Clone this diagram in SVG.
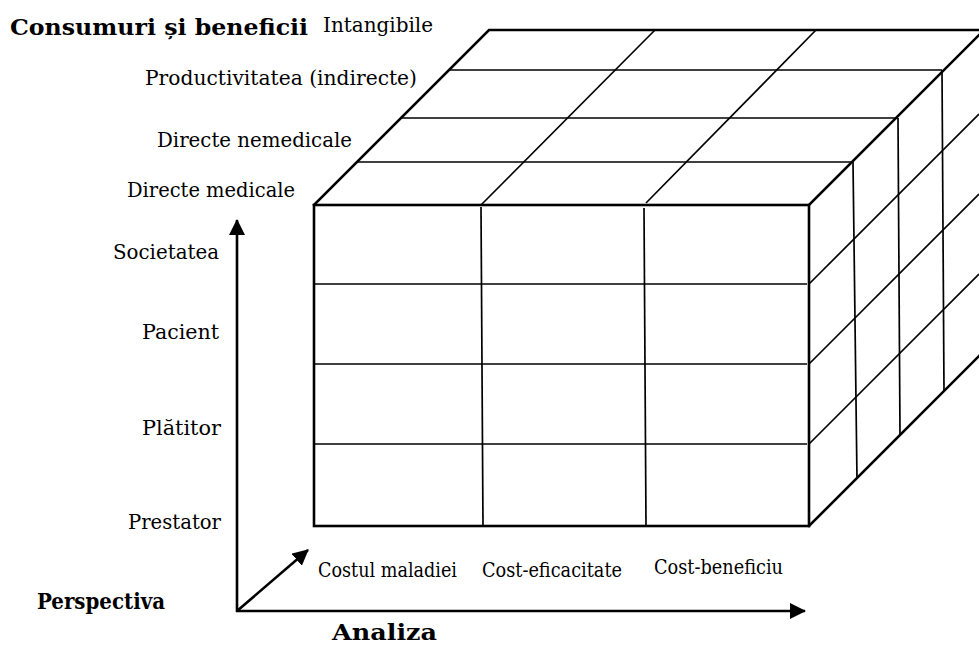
<svg xmlns="http://www.w3.org/2000/svg" width="979" height="647" viewBox="0 0 979 647">
  <style>
    .edge { stroke: #000; stroke-width: 2.6; fill: none; stroke-linecap: square; stroke-linejoin: miter; }
    .grid { stroke: #000; stroke-width: 1.7; fill: none; }
    .axis { stroke: #000; stroke-width: 2.6; fill: none; }
    .lbl { font-family: "DejaVu Serif", "Liberation Serif", serif; font-size: 20px; fill: #000; }
    .ttl { font-family: "DejaVu Serif", "Liberation Serif", serif; font-size: 22px; font-weight: bold; fill: #000; }
  </style>
  <defs>
    <marker id="arrow" viewBox="0 0 16 16" refX="15" refY="8" markerWidth="16" markerHeight="16" markerUnits="userSpaceOnUse" orient="auto">
      <path d="M0,0 L16,8 L0,16 Z" fill="#000"/>
    </marker>
  </defs>

  <rect width="979" height="647" fill="#fff"/>

  <!-- cube: front face 3 x 4, top face 3 x 4, right face 4 x 4 (cut by the page edge) -->
  <g id="cube">
    <!-- top face grid -->
    <g class="grid">
      <line x1="449" y1="70" x2="942" y2="70"/>
      <line x1="401" y1="118" x2="898" y2="118"/>
      <line x1="357" y1="162" x2="853" y2="162"/>
      <line x1="481" y1="205" x2="655" y2="30"/>
      <line x1="646" y1="203" x2="816" y2="30"/>
    </g>
    <!-- front face grid -->
    <g class="grid">
      <line x1="314" y1="284" x2="807" y2="284"/>
      <line x1="314" y1="364" x2="807" y2="364"/>
      <line x1="314" y1="444" x2="807" y2="444"/>
      <line x1="481" y1="207" x2="483" y2="526"/>
      <line x1="644" y1="208" x2="646" y2="526"/>
    </g>
    <!-- right face grid -->
    <g class="grid">
      <line x1="809" y1="284" x2="979" y2="114"/>
      <line x1="809" y1="364" x2="979" y2="194"/>
      <line x1="809" y1="444" x2="979" y2="274"/>
      <line x1="853" y1="162" x2="857" y2="479"/>
      <line x1="898" y1="118" x2="900" y2="435"/>
      <line x1="942" y1="70" x2="944" y2="391"/>
    </g>
    <!-- outer edges -->
    <rect class="edge" x="314" y="205" width="495" height="321"/>
    <polyline class="edge" points="314,205 489,30 979,30"/>
    <line class="edge" x1="809" y1="205" x2="979" y2="35"/>
    <line class="edge" x1="809" y1="526" x2="979" y2="356"/>
  </g>

  <!-- axes -->
  <g id="connectors">
    <line class="axis" x1="237" y1="612" x2="237" y2="220" marker-end="url(#arrow)"/>
    <line class="axis" x1="236" y1="611" x2="805" y2="611" marker-end="url(#arrow)"/>
    <line class="axis" x1="237" y1="611" x2="308" y2="550" marker-end="url(#arrow)"/>
  </g>

  <!-- cost / benefit categories -->
  <g id="consumuri">
    <text class="ttl" x="10" y="35" textLength="298" lengthAdjust="spacingAndGlyphs">Consumuri și beneficii</text>
    <text class="lbl" x="323" y="32" textLength="110" lengthAdjust="spacingAndGlyphs">Intangibile</text>
    <text class="lbl" x="145" y="85" textLength="272" lengthAdjust="spacingAndGlyphs">Productivitatea (indirecte)</text>
    <text class="lbl" x="157" y="147" textLength="195" lengthAdjust="spacingAndGlyphs">Directe nemedicale</text>
    <text class="lbl" x="127" y="197" textLength="168" lengthAdjust="spacingAndGlyphs">Directe medicale</text>
  </g>

  <!-- perspectives -->
  <g id="perspectiva">
    <text class="lbl" x="113" y="259" textLength="106" lengthAdjust="spacingAndGlyphs">Societatea</text>
    <text class="lbl" x="142" y="339" textLength="77" lengthAdjust="spacingAndGlyphs">Pacient</text>
    <text class="lbl" x="142" y="435" textLength="79" lengthAdjust="spacingAndGlyphs">Plătitor</text>
    <text class="lbl" x="128" y="529" textLength="93" lengthAdjust="spacingAndGlyphs">Prestator</text>
    <text class="ttl" x="37" y="609" font-size="19" textLength="128" lengthAdjust="spacingAndGlyphs">Perspectiva</text>
  </g>

  <!-- analysis types -->
  <g id="analiza">
    <text class="lbl" x="318" y="577" font-size="18" textLength="139" lengthAdjust="spacingAndGlyphs">Costul maladiei</text>
    <text class="lbl" x="482" y="577" font-size="18" textLength="140" lengthAdjust="spacingAndGlyphs">Cost-eficacitate</text>
    <text class="lbl" x="654" y="574" font-size="18" textLength="129" lengthAdjust="spacingAndGlyphs">Cost-beneficiu</text>
    <text class="ttl" x="332" y="640" font-size="22" textLength="105" lengthAdjust="spacingAndGlyphs">Analiza</text>
  </g>
</svg>
